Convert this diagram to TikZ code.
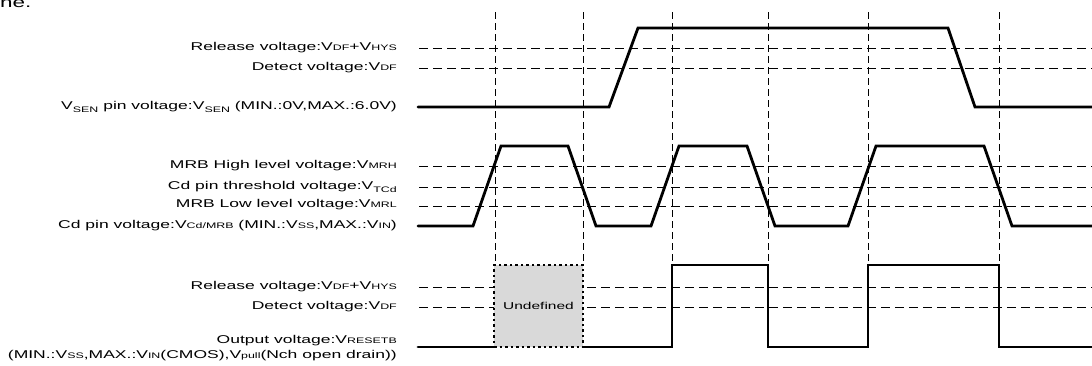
\documentclass[tikz,border=0pt]{standalone}
\usepackage{fontspec}
\setmainfont{Liberation Sans}

\newcommand{\tsub}[1]{{\fontsize{8}{9}\selectfont #1}}
\newcommand{\lsub}[1]{\raisebox{-0.35ex}{\fontsize{8}{9}\selectfont #1}}
\newcommand{\wide}[1]{\scalebox{1.55}[1]{#1}}

\tikzset{
    guide/.style={draw=black, line width=1pt, dash pattern=on 7pt off 4pt},
    level/.style={draw=black, line width=1pt, dash pattern=on 9pt off 5pt},
    wave/.style={draw=black, line width=2.8pt, line cap=round, line join=miter},
    undef/.style={draw=black, fill=black!15, line width=2.4pt, dash pattern=on 2.5pt off 3pt,
        minimum width=89pt, minimum height=82pt, inner sep=0pt, font=\fontsize{10}{12}\selectfont}
}

\begin{document}
\begin{tikzpicture}[x=1pt, y=-1pt]
    \useasboundingbox (0,0) rectangle (1092,365);
    \clip (0,0) rectangle (1092,365);

    \node[anchor=base west, inner sep=0pt, font=\fontsize{14.5}{16}\selectfont] (cut) at (0,7) {\wide{ne.}};

    % time marks
    \foreach \x in {495,583,672,768,868,999}
        \draw[guide] (\x,12) -- (\x,265);

    % threshold levels
    \foreach \y in {48,68,166,187,206,287,307}
        \draw[level] (419,\y) -- (1092,\y);

    % V_SEN
    \draw[wave] (418,107) -- (609,107) -- (638,28) -- (948,28) -- (975,107) -- (1092,107);

    % Cd pin
    \draw[wave] (418,226) -- (473,226) -- (501,146) -- (568,146) -- (596,226) -- (651,226)
        -- (679,146) -- (747,146) -- (775,226) -- (848,226) -- (876,146) -- (984,146)
        -- (1012,226) -- (1092,226);

    % RESETB
    \draw[wave] (418,347) -- (494,347);
    \draw[wave] (583,347) -- (672,347) -- (672,265) -- (768,265) -- (768,347) -- (868,347)
        -- (868,265) -- (999,265) -- (999,347) -- (1092,347);
    \node[undef] (undef) at (538.5,306) {\wide{Undefined}};

    \begin{scope}[every node/.style={anchor=east, inner sep=0pt, font=\fontsize{11.3}{13}\selectfont}]
        \node (rel_1) at (397,48) {\wide{Release voltage:V\tsub{DF}+V\tsub{HYS}}};
        \node (det_1) at (397,68) {\wide{Detect voltage:V\tsub{DF}}};
        \node (sen_1) at (397,107) {\wide{V\lsub{SEN} pin voltage:V\lsub{SEN} (MIN.:0V,MAX.:6.0V)}};

        \node (mrh_2) at (397,166) {\wide{MRB High level voltage:V\tsub{MRH}}};
        \node (tcd_2) at (397,187) {\wide{Cd pin threshold voltage:V\lsub{TCd}}};
        \node (mrl_2) at (397,205) {\wide{MRB Low level voltage:V\tsub{MRL}}};
        \node (cd_2) at (397,226) {\wide{Cd pin voltage:V\tsub{Cd/MRB} (MIN.:V\tsub{SS},MAX.:V\tsub{IN})}};

        \node (rel_3) at (397,287) {\wide{Release voltage:V\tsub{DF}+V\tsub{HYS}}};
        \node (det_3) at (397,307) {\wide{Detect voltage:V\tsub{DF}}};
        \node (out_3) at (397,341) {\wide{Output voltage:V\tsub{RESETB}}};
        \node (rng_3) at (397,356) {\wide{(MIN.:V\tsub{SS},MAX.:V\tsub{IN}(CMOS),V\tsub{pull}(Nch open drain))}};
    \end{scope}
\end{tikzpicture}
\end{document}
